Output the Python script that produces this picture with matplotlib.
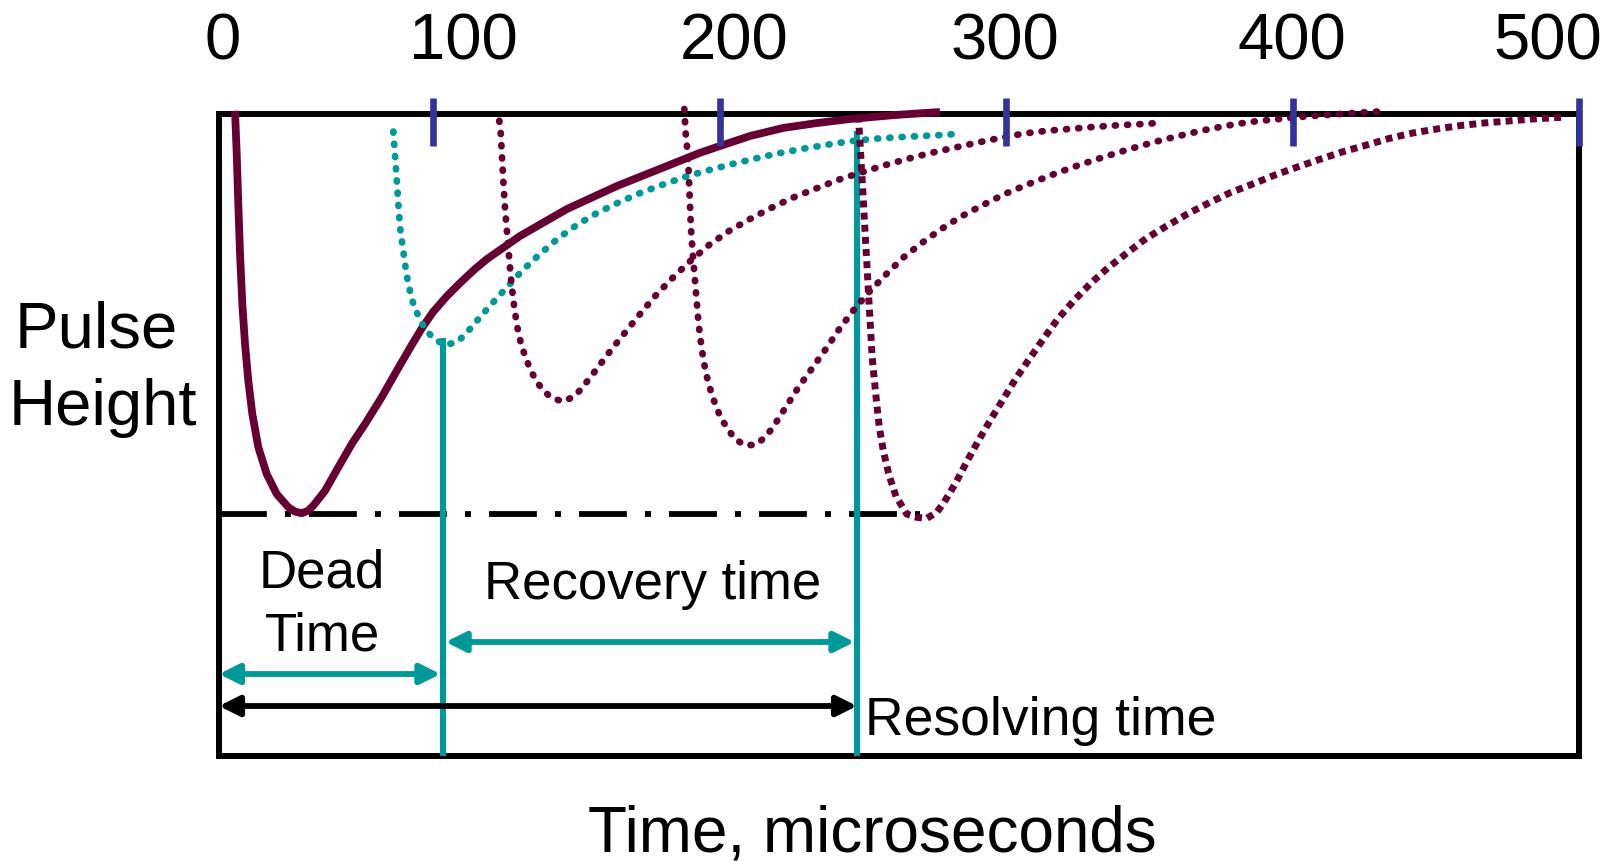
import matplotlib
matplotlib.use("Agg")
import matplotlib.pyplot as plt

plt.rcParams['font.family'] = ['Liberation Sans', 'DejaVu Sans']

MAROON = '#660033'
TEAL = '#009999'
BLUE = '#333399'

# ---- data (time in microseconds, pulse height relative to threshold = -1) ----
pulse1_t = [30.89, 31.48, 32.04, 32.64, 33.44, 34.38, 35.53, 36.93, 39.02, 41.95, 45.44,
            49.49, 51.83, 54.17, 56.37, 58.22, 62.30, 66.95, 71.62, 76.27, 82.09, 87.33,
            92.57, 96.06, 100.0, 104.89, 109.42, 114.66, 118.85, 130.37, 146.77, 164.22,
            181.68, 193.19, 199.13, 210.64, 222.16, 234.03, 245.55, 261.26, 276.96]
pulse1_h = [0.008, -0.1, -0.225, -0.35, -0.475, -0.575, -0.667, -0.75, -0.833, -0.9, -0.95,
            -0.983, -0.994, -0.998, -0.992, -0.979, -0.942, -0.883, -0.825, -0.775, -0.708,
            -0.642, -0.5775, -0.536, -0.495, -0.455, -0.4225, -0.3875, -0.3625, -0.305,
            -0.2375, -0.18, -0.13, -0.097, -0.0825, -0.055, -0.035, -0.0225, -0.0125,
            -0.0025, 0.005]

teal_t = [86.14, 86.74, 87.33, 87.89, 88.48, 89.63, 90.82, 92.57, 93.96, 95.71, 97.80, 100.70,
          104.19, 108.27, 111.41, 114.07, 119.55, 125.24, 130.96, 137.00, 143.39, 150.16,
          157.35, 164.82, 172.50, 180.38, 188.55, 196.44, 204.47, 212.63, 220.77, 229.04,
          237.42, 245.65, 253.93, 262.30, 270.58, 279.06, 283.35]
teal_h = [-0.044, -0.104, -0.1625, -0.225, -0.283, -0.343, -0.404, -0.4625, -0.49, -0.518,
          -0.543, -0.564, -0.577, -0.571, -0.55, -0.5275, -0.482, -0.4375, -0.393, -0.352,
          -0.3125, -0.2775, -0.247, -0.221, -0.197, -0.176, -0.156, -0.14, -0.125, -0.111,
          -0.098, -0.087, -0.077, -0.068, -0.062, -0.058, -0.055, -0.052, -0.049]

pulse2_t = [123.14, 123.63, 124.08, 124.54, 125.03, 125.72, 126.42, 127.12, 128.03, 129.21,
            130.02, 131.06, 132.46, 133.96, 135.95, 138.29, 141.43, 145.48, 149.21, 152.11,
            154.55, 157.14, 162.23, 167.47, 172.71, 178.18, 184.01, 190.05, 196.44, 203.32,
            210.65, 217.98, 225.65, 233.44, 241.26, 249.14, 257.17, 265.20, 273.37, 281.50,
            289.63, 297.91, 306.04, 314.21, 322.69, 331.17, 339.55, 347.92, 352.11]
pulse2_h = [-0.017, -0.046, -0.107, -0.166, -0.226, -0.286, -0.346, -0.405, -0.465, -0.525,
            -0.554, -0.583, -0.611, -0.639, -0.666, -0.69, -0.71, -0.719, -0.706, -0.685,
            -0.661, -0.6375, -0.589, -0.5425, -0.496, -0.45, -0.407, -0.366, -0.327, -0.2925,
            -0.2625, -0.235, -0.209, -0.187, -0.165, -0.147, -0.129, -0.113, -0.098, -0.085,
            -0.072, -0.06, -0.049, -0.042, -0.037, -0.032, -0.028, -0.025, -0.023]

pulse3_t = [187.71, 188.20, 189.01, 189.36, 189.70, 190.05, 190.65, 191.34, 192.04, 192.74,
            193.79, 195.18, 197.38, 200.42, 205.06, 208.55, 212.39, 215.64, 218.22, 220.52,
            222.86, 227.40, 232.29, 237.17, 241.82, 246.95, 252.08, 258.12, 264.29, 270.68,
            277.42, 284.64, 292.08, 299.55, 307.23, 315.01, 322.93, 330.82, 338.85, 346.77,
            355.04, 363.18, 371.31, 379.58, 387.85, 396.23, 404.61, 412.84, 421.22, 429.60]
pulse3_h = [0.0125, -0.048, -0.108, -0.1675, -0.2275, -0.2875, -0.3475, -0.4075, -0.4675,
            -0.527, -0.587, -0.646, -0.704, -0.76, -0.81, -0.8275, -0.8275, -0.81, -0.7875,
            -0.7625, -0.736, -0.685, -0.636, -0.587, -0.5375, -0.489, -0.446, -0.401, -0.358,
            -0.322, -0.2875, -0.255, -0.227, -0.2, -0.177, -0.155, -0.134, -0.115, -0.097,
            -0.08, -0.064, -0.05, -0.037, -0.026, -0.0175, -0.012, -0.006, -0.002, 0.0025, 0.006]

pulse4_t = [248.45, 249.04, 249.49, 249.98, 250.44, 250.89, 251.38, 251.83, 252.29, 252.78,
            253.23, 254.03, 254.87, 255.78, 257.17, 259.06, 261.61, 265.34, 268.59, 272.32,
            275.81, 278.36, 282.55, 286.49, 290.58, 294.76, 299.06, 303.49, 308.13, 313.02,
            317.91, 323.49, 329.32, 335.50, 342.13, 349.11, 356.09, 363.28, 370.75, 378.18,
            386.11, 393.89, 401.92, 409.84, 417.73, 425.90, 433.79, 441.95, 450.33, 458.46,
            466.84, 475.32, 483.70, 491.97, 495.11]
pulse4_h = [-0.004, -0.071, -0.129, -0.1875, -0.2475, -0.307, -0.367, -0.426, -0.485, -0.544,
            -0.604, -0.664, -0.724, -0.783, -0.842, -0.9, -0.956, -1.0, -1.008, -1.011, -0.996,
            -0.971, -0.921, -0.867, -0.814, -0.7625, -0.7125, -0.661, -0.6125, -0.5625, -0.514,
            -0.468, -0.425, -0.385, -0.348, -0.31, -0.28, -0.25, -0.2225, -0.197, -0.175,
            -0.1525, -0.132, -0.1125, -0.094, -0.0775, -0.061, -0.0475, -0.0375, -0.029,
            -0.0225, -0.0175, -0.0125, -0.009, -0.008]

tick_positions = [100, 200, 300, 400, 500]
tick_labels = ['0', '100', '200', '300', '400', '500']
tick_label_x = [26.4, 110.5, 205.1, 299.7, 399.8, 489.2]

threshold = -1.0
t_start = 25.3
dead_end = 103.5
resolve_end = 248.0
threshold_end = 270.0

# ---- figure ----
fig = plt.figure(figsize=(16.12, 8.62), dpi=100)
ax = fig.add_axes([219 / 1612, 105 / 862, 1360 / 1612, 642 / 862])
ax.set_xlim(t_start, 500)
ax.set_ylim(-1.605, 0)
ax.set_xticks([])
ax.set_yticks([])
for s in ax.spines.values():
    s.set_linewidth(4.3)
    s.set_color('black')
    s.set_zorder(2.5)

# threshold dash-dot line
ax.plot([t_start, threshold_end], [threshold, threshold], color='black', lw=4.2,
        linestyle=(0, (8.2, 3.1, 1.03, 3.1)), dash_capstyle='butt', zorder=2, clip_on=False)

# teal vertical markers
ax.plot([dead_end, dead_end], [-0.56, -1.605], color=TEAL, lw=4.4, zorder=2.6,
        solid_capstyle='butt', clip_on=False)
ax.plot([resolve_end, resolve_end], [-0.0425, -1.605], color=TEAL, lw=4.4, zorder=2.6,
        solid_capstyle='butt', clip_on=False)

# pulses
ax.plot(pulse1_t, pulse1_h, color=MAROON, lw=5.6, solid_joinstyle='round',
        solid_capstyle='butt', zorder=3, clip_on=False)
dot = (0, (0.15, 1.65))
ax.plot(teal_t, teal_h, color=TEAL, lw=4.9, linestyle=dot, dash_capstyle='round',
        zorder=3, clip_on=False)
ax.plot(pulse2_t, pulse2_h, color=MAROON, lw=4.9, linestyle=dot, dash_capstyle='round',
        zorder=3, clip_on=False)
ax.plot(pulse3_t, pulse3_h, color=MAROON, lw=4.9, linestyle=dot, dash_capstyle='round',
        zorder=3, clip_on=False)
ax.plot(pulse4_t, pulse4_h, color=MAROON, lw=5.0, linestyle=(0, (1, 0.75)),
        dash_capstyle='butt', zorder=3, clip_on=False)

# top tick marks
for tp in tick_positions:
    ax.plot([tp, tp], [0.04, -0.08], color=BLUE, lw=4.8, solid_capstyle='butt',
            zorder=4, clip_on=False)
for lab, lx in zip(tick_labels, tick_label_x):
    ax.text(lx, 0.1375, lab, fontsize=47, ha='center', va='baseline', clip_on=False)

# arrows
def darrow(x0, x1, y, color):
    ax.annotate('', xy=(x1, y), xytext=(x0, y),
                arrowprops=dict(arrowstyle='<|-|>,head_length=0.6,head_width=0.3',
                                color=color, lw=4.2, shrinkA=0, shrinkB=0,
                                mutation_scale=20),
                annotation_clip=False, zorder=3)

darrow(t_start, dead_end - 0.9, -1.40, TEAL)
darrow(dead_end + 0.9, resolve_end - 0.9, -1.32, TEAL)
darrow(t_start, resolve_end, -1.48, 'black')

# labels
ax.text(61.3, -1.181, 'Dead', fontsize=38, ha='center', va='baseline')
ax.text(61.3, -1.338, 'Time', fontsize=38, ha='center', va='baseline')
ax.text(176.8, -1.21, 'Recovery time', fontsize=38, ha='center', va='baseline')
ax.text(250.9, -1.55, 'Resolving time', fontsize=38.5, ha='left', va='baseline')
ax.text(-17.4, -0.58, 'Pulse', fontsize=47, ha='center', va='baseline', clip_on=False)
ax.text(-15.1, -0.775, 'Height', fontsize=47, ha='center', va='baseline', clip_on=False)
ax.text(253.5, -1.84, 'Time, microseconds', fontsize=46, ha='center', va='baseline',
        clip_on=False)

fig.savefig('out.png', dpi=100)
